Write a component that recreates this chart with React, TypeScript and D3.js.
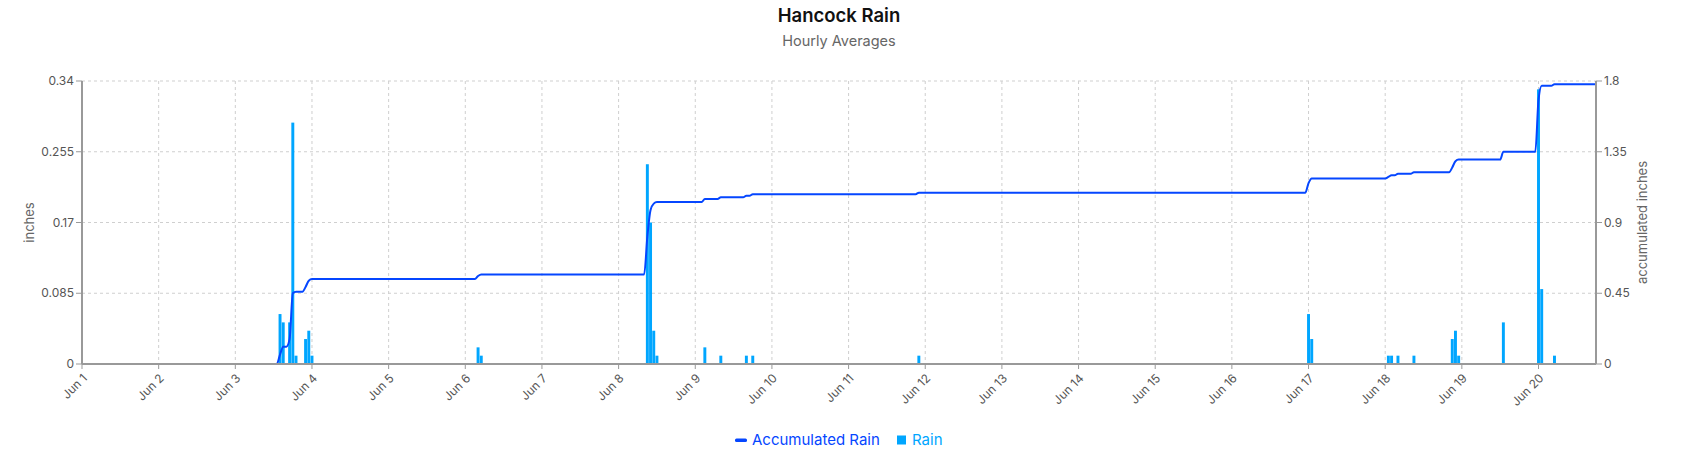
import React from 'react';
import * as d3 from 'd3';

const W = 1684;
const H = 464;
const FONT = 'Inter, "Open Sans", sans-serif';

// Hourly rain (inches), hour offset from Jun 1 00:00
const rainHours = [62, 63, 65, 66, 67, 70, 71, 72, 124, 125, 177, 178, 179, 180, 195, 200, 208, 210, 262, 384, 385, 409, 410, 412, 417, 429, 430, 431, 445, 456, 457, 461];
const rainValues = [0.06, 0.05, 0.05, 0.29, 0.01, 0.03, 0.04, 0.01, 0.02, 0.01, 0.24, 0.17, 0.04, 0.01, 0.02, 0.01, 0.01, 0.01, 0.01, 0.06, 0.03, 0.01, 0.01, 0.01, 0.01, 0.03, 0.04, 0.01, 0.05, 0.33, 0.09, 0.01];
const lastHour = 474; // Jun 20 18:00

const leftTicks = [0, 0.085, 0.17, 0.255, 0.34];
const rightTicks = [0, 0.45, 0.9, 1.35, 1.8];
const leftTickLabels = ['0', '0.085', '0.17', '0.255', '0.34'];
const rightTickLabels = ['0', '0.45', '0.9', '1.35', '1.8'];

const LINE_COLOR = '#0546ff';
const BAR_COLOR = '#00a6ff';

const start = Date.UTC(2021, 5, 1);
const HOUR = 3600 * 1000;

export default function App() {
  const m = { l: 82, r: 88, t: 81, b: 100 };
  const x = d3.scaleUtc().domain([new Date(start), new Date(start + lastHour * HOUR)]).range([m.l, W - m.r]);
  const yL = d3.scaleLinear().domain([0, 0.34]).range([H - m.b, m.t]);
  const yR = d3.scaleLinear().domain([0, 1.8]).range([H - m.b, m.t]);

  const rainMap = new Map<number, number>();
  rainHours.forEach((h, i) => rainMap.set(h, rainValues[i]));
  const hourly = d3.range(0, lastHour + 1).map((h) => ({ t: new Date(start + h * HOUR), v: rainMap.get(h) ?? 0 }));
  let acc = 0;
  const accum = hourly.map((d) => { acc += d.v; return { t: d.t, v: Math.round(acc * 1000) / 1000 }; });

  const line = d3.line<{ t: Date; v: number }>().x((d) => x(d.t)).y((d) => yR(d.v)).curve(d3.curveMonotoneX);
  const hourPx = x(new Date(start + HOUR)) - x(new Date(start));
  const barW = hourPx * 0.92;

  const days = d3.utcDay.range(new Date(start), new Date(start + lastHour * HOUR + 1));
  const fmt = d3.utcFormat('%b %-d');
  const y0 = H - m.b;
  const xR = W - m.r;

  return (
    <div style={{ position: 'absolute', left: 0, top: 0 }}>
      <svg width={W} height={H} style={{ display: 'block', fontFamily: FONT }}>
        <rect width={W} height={H} fill="#fff" />
        <text x={839} y={22} textAnchor="middle" fontSize={18.5} fontWeight={600} fill="#111">Hancock Rain</text>
        <text x={839} y={46} textAnchor="middle" fontSize={14.5} fill="#666">Hourly Averages</text>

        {/* grid */}
        {leftTicks.map((t, i) => (
          <line key={'hg' + i} x1={m.l} x2={xR} y1={yL(t)} y2={yL(t)} stroke="#cfcfcf" strokeDasharray="3,3" />
        ))}
        {days.map((d, i) => (
          <line key={'vg' + i} x1={x(d)} x2={x(d)} y1={m.t} y2={y0} stroke="#cfcfcf" strokeDasharray="3,3" />
        ))}

        {/* bars */}
        {hourly.filter((d) => d.v > 0).map((d, i) => (
          <rect key={'b' + i} x={x(d.t) - barW / 2} y={yL(d.v)} width={barW} height={y0 - yL(d.v)} fill={BAR_COLOR} />
        ))}

        {/* accumulated line */}
        <path d={line(accum) || ''} fill="none" stroke={LINE_COLOR} strokeWidth={2} />

        {/* axes */}
        <line x1={m.l} x2={xR} y1={y0} y2={y0} stroke="#999" strokeWidth={2} />
        <line x1={m.l} x2={m.l} y1={m.t} y2={y0} stroke="#999" strokeWidth={2} />
        <line x1={xR} x2={xR} y1={m.t} y2={y0} stroke="#999" strokeWidth={2} />

        {leftTicks.map((t, i) => (
          <g key={'lt' + i}>
            <line x1={m.l - 6} x2={m.l} y1={yL(t)} y2={yL(t)} stroke="#999" />
            <text x={m.l - 8} y={yL(t)} dy="0.35em" textAnchor="end" fontSize={12} fill="#555">{leftTickLabels[i]}</text>
          </g>
        ))}
        {rightTicks.map((t, i) => (
          <g key={'rt' + i}>
            <line x1={xR} x2={xR + 6} y1={yR(t)} y2={yR(t)} stroke="#999" />
            <text x={xR + 8} y={yR(t)} dy="0.35em" textAnchor="start" fontSize={12} fill="#555">{rightTickLabels[i]}</text>
          </g>
        ))}
        {days.map((d, i) => (
          <g key={'xt' + i}>
            <line x1={x(d)} x2={x(d)} y1={y0} y2={y0 + 5} stroke="#999" />
            <text transform={`translate(${x(d) + 3},${y0 + 12}) rotate(-45)`} textAnchor="end" dy="0.35em" fontSize={12} fill="#555">{fmt(d)}</text>
          </g>
        ))}

        <text transform={`translate(34,${(m.t + y0) / 2}) rotate(-90)`} textAnchor="middle" fontSize={13} fill="#666">inches</text>
        <text transform={`translate(1647,${(m.t + y0) / 2}) rotate(-90)`} textAnchor="middle" fontSize={13} fill="#666">accumulated inches</text>

        {/* legend */}
        <rect x={735} y={438.5} width={12} height={3.5} rx={1.5} fill={LINE_COLOR} />
        <text x={752} y={440} dy="0.35em" fontSize={15} fill={LINE_COLOR}>Accumulated Rain</text>
        <rect x={897} y={435.5} width={9} height={9} fill={BAR_COLOR} />
        <text x={912} y={440} dy="0.35em" fontSize={15} fill={BAR_COLOR}>Rain</text>
      </svg>
    </div>
  );
}
